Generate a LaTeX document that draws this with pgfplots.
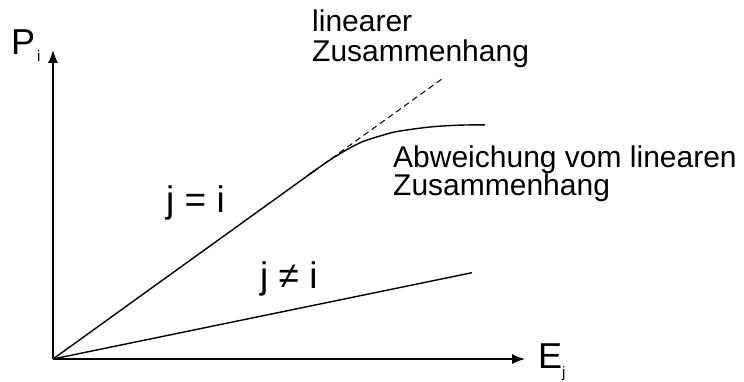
\documentclass[border=0pt]{standalone}
\usepackage{fontspec}
\setmainfont{Liberation Sans}
\usepackage{pgfplots}
\pgfplotsset{compat=1.18}
\usetikzlibrary{arrows.meta}
\begin{document}
\begin{tikzpicture}
\begin{axis}[
  hide axis, scale only axis,
  width=744pt, height=381pt,
  xmin=-53, xmax=691, ymin=-22, ymax=359,
  clip=false,
  every axis plot/.append style={black, line width=1.4pt, no markers},
]
% axes
\addplot[black, solid, -{Latex[length=13pt,width=10pt]}] coordinates {(0,0) (0,309)};
\addplot[black, solid, -{Latex[length=13pt,width=10pt]}] coordinates {(0,0) (472,0)};
% j = i
\addplot[black, solid] coordinates {(0,0) (265,190.8)};
\addplot[black, solid, smooth] coordinates {(255,183.6) (265,190.8) (280,201) (295,210) (310,217.5) (327,223) (344,227.5) (377,232) (405,233.8) (432,234.2)};
% linear continuation
\addplot[black, line width=1pt, dash pattern=on 6pt off 4pt] coordinates {(270,194.4) (390,280.8)};
% j != i
\addplot[black, solid] coordinates {(0,0) (419,86.3)};
% labels
\node[anchor=base west, inner sep=0pt, font=\fontsize{30}{36}\selectfont] at (axis cs:259,327) {linearer};
\node[anchor=base west, inner sep=0pt, font=\fontsize{30}{36}\selectfont] at (axis cs:259,297) {Zusammenhang};
\node[anchor=base west, inner sep=0pt, font=\fontsize{30}{36}\selectfont] at (axis cs:340,192) {Abweichung vom linearen};
\node[anchor=base west, inner sep=0pt, font=\fontsize{30}{36}\selectfont] at (axis cs:340,164) {Zusammenhang};
\node[anchor=base west, inner sep=0pt, font=\fontsize{37}{44}\selectfont] at (axis cs:113,147) {j = i};
\node[anchor=base west, inner sep=0pt, font=\fontsize{37}{44}\selectfont] at (axis cs:207,71) {j ≠ i};
\node[anchor=base west, inner sep=0pt, font=\fontsize{36}{43}\selectfont] at (axis cs:-42,304) {P};
\node[anchor=base west, inner sep=0pt, font=\fontsize{15}{18}\selectfont] at (axis cs:-16,297) {i};
\node[anchor=base west, inner sep=0pt, font=\fontsize{36}{43}\selectfont] at (axis cs:485,-9) {E};
\node[anchor=base west, inner sep=0pt, font=\fontsize{15}{18}\selectfont] at (axis cs:509,-18) {j};
\end{axis}
\pgfresetboundingbox
\path (current axis.south west) rectangle (current axis.north east);
\end{tikzpicture}
\end{document}
